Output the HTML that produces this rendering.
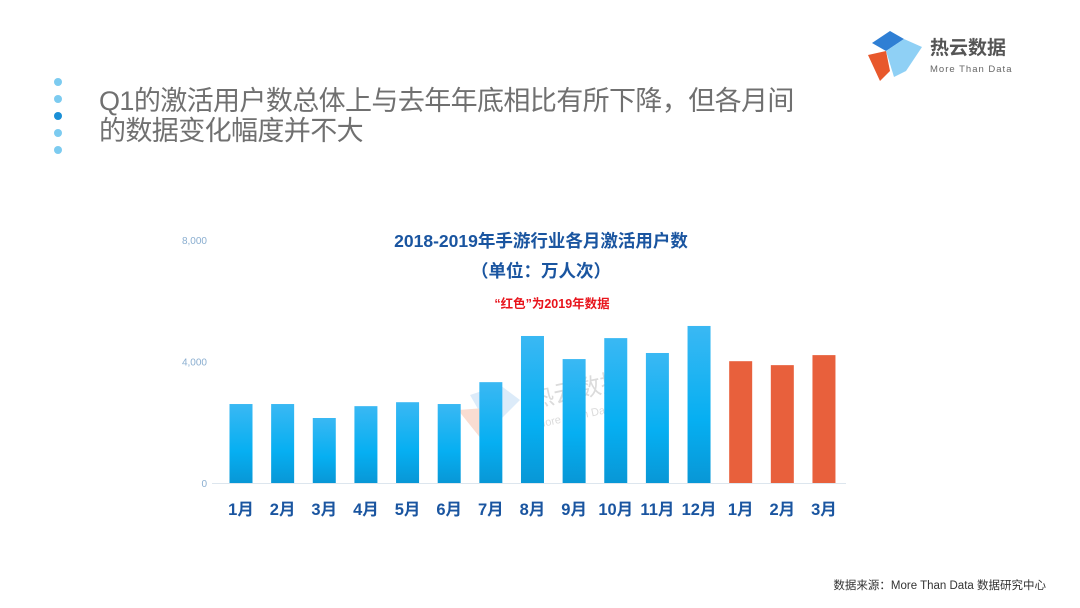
<!DOCTYPE html>
<html><head><meta charset="utf-8">
<style>
body{margin:0;width:1080px;height:608px;background:#fff;position:relative;overflow:hidden;font-family:"Liberation Sans","Noto Sans CJK SC",sans-serif}
.dot{position:absolute;left:54px;width:8px;height:8px;border-radius:50%;background:#7ccbf0}
#heading{position:absolute;left:99px;top:86px;font-size:27px;line-height:30px;color:#707070;letter-spacing:-0.6px}
#footer{position:absolute;right:34px;top:577px;font-size:11.5px;color:#333}
</style></head><body>
<div class="dot" style="top:78px"></div>
<div class="dot" style="top:95px"></div>
<div class="dot" style="top:112px;background:#1a8fd6"></div>
<div class="dot" style="top:129px"></div>
<div class="dot" style="top:146px"></div>
<div id="heading">Q1的激活用户数总体上与去年年底相比有所下降，但各月间<br>的数据变化幅度并不大</div>
<svg width="200" height="70" style="position:absolute;left:860px;top:25px">
<polygon points="12,18 30,6 44,14 26,26" fill="#2f7fd4"/>
<polygon points="26,26 44,14 62,22 46,46 34,52" fill="#8fd0f5"/>
<polygon points="8,30 26,26 30,46 20,56" fill="#e8582c"/>
<text x="70" y="29" font-size="19" fill="#555" font-family="Liberation Sans,Noto Sans CJK SC,sans-serif" font-weight="bold">热云数据</text>
<text x="70" y="47" font-size="9.5" fill="#666" letter-spacing="1">More Than Data</text>
</svg>
<svg id="chart" width="1080" height="608" style="position:absolute;left:0;top:0">
<defs><linearGradient id="bg" x1="0" y1="0" x2="0" y2="1"><stop offset="0" stop-color="#3ab8f3"/><stop offset="0.6" stop-color="#06aff2"/><stop offset="1" stop-color="#0897d6"/></linearGradient></defs>
<text x="541" y="247" text-anchor="middle" font-size="17.5" font-weight="bold" fill="#1a55a0">2018-2019年手游行业各月激活用户数</text>
<text x="541" y="277" text-anchor="middle" font-size="17.5" font-weight="bold" fill="#1a55a0">（单位：万人次）</text>
<text x="552" y="308" text-anchor="middle" font-size="12.5" font-weight="bold" fill="#e8141c">“红色”为2019年数据</text>
<g opacity="0.35">
<polygon points="470,395 500,385 520,400 490,430" fill="#9cc8ee"/>
<polygon points="458,410 485,408 490,450" fill="#f0a080"/>
<text x="532" y="408" font-size="24" fill="#999" transform="rotate(-12 532 408)">热云数据</text>
<text x="537" y="428" font-size="11" fill="#999" transform="rotate(-12 537 428)">More Than Data</text>
</g>
<g id="axis"></g><g id="bars"></g>
</svg>
<div id="footer">数据来源：More Than Data 数据研究中心</div>
<script>
const categories=["1月","2月","3月","4月","5月","6月","7月","8月","9月","10月","11月","12月","1月","2月","3月"];
const values=[2600,2600,2140,2530,2660,2600,3320,4840,4080,4770,4280,5170,4010,3880,4210];
const is2019=[0,0,0,0,0,0,0,0,0,0,0,0,1,1,1];
const yTicks=[0,4000,8000];
const yTickLabels=["0","4,000","8,000"];
const NS="http://www.w3.org/2000/svg";
const y0=483,yTop=240,yMax=8000;
const y=v=>y0-(v/yMax)*(y0-yTop);
const x=i=>241+i*41.64;
const ax=document.getElementById('axis'),bs=document.getElementById('bars');
function mk(t,a,p){const e=document.createElementNS(NS,t);for(const k in a)e.setAttribute(k,a[k]);p.appendChild(e);return e;}
const base=mk('line',{x1:212,x2:846,y1:y0+0.5,y2:y0+0.5,stroke:'#dde6ee','stroke-width':1},ax);


yTicks.forEach((v,i)=>{const t=mk('text',{x:207,y:y(v)+4,'text-anchor':'end','font-size':10,fill:'#8aaed0'},ax);t.textContent=yTickLabels[i];

});
values.forEach((v,i)=>{const r=mk('rect',{x:x(i)-11.5,y:y(v),width:23,height:y0-y(v),fill:is2019[i]?'#e8603c':'url(#bg)'},bs);


const t=mk('text',{x:x(i),y:515,'text-anchor':'middle','font-size':16.5,'font-weight':'bold',fill:'#1a55a0'},ax);t.textContent=categories[i];

});
</script>
</body></html>
